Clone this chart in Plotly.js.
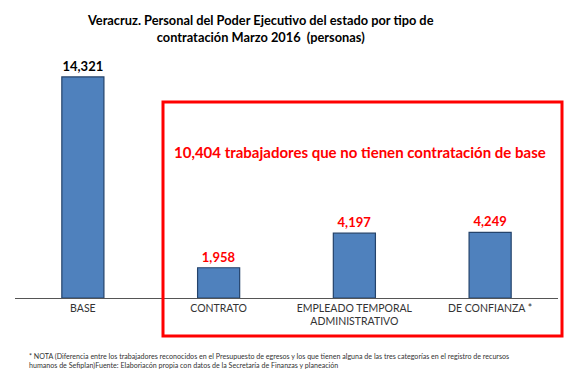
<!DOCTYPE html>
<html><head><meta charset="utf-8">
<script src="https://cdn.plot.ly/plotly-3.0.1.min.js"></script>
<style>html,body{margin:0;padding:0;background:#fff}#chart{width:573px;height:390px}</style>
</head><body><div id="chart"></div>
<script>
const categories = ["BASE", "CONTRATO", "EMPLEADO TEMPORAL<br>ADMINISTRATIVO", "DE CONFIANZA *"];
const values = [14321, 1958, 4197, 4249];
const labelColors = ["#000000", "#ff0000", "#ff0000", "#ff0000"];
const titleText = "Veracruz. Personal del Poder Ejecutivo del estado por tipo de<br>contratación Marzo 2016  (personas)";
const boxText = "10,404 trabajadores que no tienen contratación de base";
const noteText = "* NOTA (Diferencia entre los trabajadores reconocidos en el Presupuesto de egresos y los que tienen alguna de las tres categorías en el registro de recursos<br>humanos de Sefiplan)Fuente: Elaboriacón propia con datos de la Secretaría de Finanzas y planeación";

const fontFam = "Lato, 'Open Sans', sans-serif";
const trace = {
  type: "bar",
  x: categories,
  y: values,
  width: 0.31,
  marker: {color: "#4f81bd", line: {color: "#24436b", width: 1.2}},
  text: values.map(v => v.toLocaleString("en-US")),
  textposition: "outside",
  textfont: {family: fontFam, size: 13, color: labelColors, weight: "bold"},
  cliponaxis: false,
  hoverinfo: "skip"
};
const layout = {
  width: 573, height: 390,
  margin: {l: 15, r: 15, t: 51, b: 92},
  paper_bgcolor: "#fff", plot_bgcolor: "#fff",
  showlegend: false,
  title: {text: titleText, x: 0.455, xanchor: "center", y: 1 - 25/390, yanchor: "middle",
          font: {family: fontFam, size: 12.8, color: "#000", weight: "bold"}},
  xaxis: {showline: true, linecolor: "#555", linewidth: 1, ticks: "", showgrid: false,
          tickfont: {family: fontFam, size: 10.5, color: "#333"}, fixedrange: true},
  yaxis: {range: [0, 16000], visible: false, showgrid: false, zeroline: false, fixedrange: true},
  shapes: [{type: "rect", xref: "paper", yref: "paper",
            x0: (163-15)/543, x1: (562-15)/543, y0: (298-336)/247, y1: (298-102)/247,
            line: {color: "#ff0000", width: 3}, fillcolor: "rgba(0,0,0,0)"}],
  annotations: [
    {xref: "paper", yref: "paper", x: (360-15)/543, y: (298-152)/247, text: boxText, showarrow: false,
     font: {family: fontFam, size: 15, color: "#ff0000", weight: "bold"}, xanchor: "center", yanchor: "middle"},
    {xref: "paper", yref: "paper", x: (27-15)/543, y: (298-350)/247, text: noteText, showarrow: false, align: "left",
     font: {family: fontFam, size: 7.1, color: "#333"}, xanchor: "left", yanchor: "top"}
  ]
};
Plotly.newPlot("chart", [trace], layout, {displayModeBar: false, staticPlot: true});
</script></body></html>
